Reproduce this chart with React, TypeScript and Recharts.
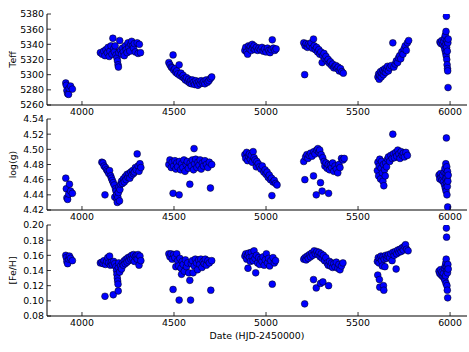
import React from 'react';
import { ScatterChart, Scatter, XAxis, YAxis } from 'recharts';

// observation date (HJD-2450000) vs. stellar parameter, one list per panel
const teffPoints: [number, number][] = [
  [3912, 5289], [3915, 5286], [3918, 5279], [3922, 5275], [3927, 5274], [3930, 5282], [3938, 5285], [3948, 5281],
  [4100, 5329], [4110, 5327], [4118, 5331], [4125, 5325], [4130, 5333], [4138, 5329], [4142, 5336], [4148, 5324],
  [4152, 5331], [4158, 5338], [4163, 5327], [4168, 5348], [4172, 5334], [4176, 5330], [4180, 5338], [4185, 5326],
  [4190, 5322], [4193, 5318], [4196, 5313], [4198, 5310], [4200, 5329], [4205, 5345], [4210, 5332], [4215, 5327],
  [4220, 5335], [4225, 5330], [4230, 5325], [4235, 5338], [4240, 5333], [4245, 5329], [4250, 5342], [4255, 5336],
  [4260, 5331], [4265, 5340], [4270, 5344], [4275, 5338], [4280, 5335], [4285, 5341], [4290, 5330], [4300, 5342],
  [4305, 5328], [4312, 5340], [4318, 5329],
  [4472, 5316], [4478, 5313], [4485, 5310], [4490, 5309], [4495, 5326], [4498, 5306], [4505, 5308], [4510, 5303],
  [4515, 5305], [4520, 5301], [4528, 5313], [4532, 5299], [4538, 5302], [4545, 5297], [4550, 5299], [4556, 5295],
  [4562, 5293], [4568, 5296], [4575, 5291], [4580, 5294], [4585, 5289], [4590, 5292], [4595, 5288], [4600, 5293],
  [4606, 5290], [4612, 5287], [4618, 5292], [4624, 5289], [4630, 5286], [4636, 5291], [4642, 5288], [4648, 5292],
  [4655, 5289], [4662, 5291], [4668, 5288], [4675, 5293], [4682, 5290], [4690, 5292], [4698, 5295], [4705, 5297],
  [4885, 5332], [4890, 5336], [4895, 5330], [4900, 5327], [4905, 5338], [4910, 5334], [4915, 5337], [4920, 5332],
  [4925, 5340], [4930, 5335], [4935, 5338], [4940, 5333], [4948, 5336], [4955, 5332], [4962, 5335], [4970, 5333],
  [4978, 5336], [4985, 5331], [4992, 5334], [5000, 5330], [5008, 5335], [5015, 5332], [5022, 5329], [5028, 5333],
  [5034, 5346], [5040, 5335], [5048, 5332], [5055, 5334],
  [5205, 5342], [5210, 5300], [5212, 5338], [5218, 5341], [5225, 5336], [5230, 5340], [5238, 5338], [5245, 5342],
  [5252, 5335], [5258, 5347], [5262, 5338], [5268, 5333], [5275, 5336], [5280, 5330], [5287, 5333], [5292, 5327],
  [5298, 5330], [5305, 5316], [5308, 5325], [5315, 5328], [5320, 5321], [5326, 5324], [5332, 5318], [5338, 5320],
  [5344, 5315], [5350, 5317], [5356, 5312], [5362, 5314], [5368, 5309], [5374, 5311], [5380, 5312], [5386, 5308],
  [5392, 5310], [5398, 5305], [5405, 5308], [5412, 5304], [5420, 5302],
  [5608, 5297], [5612, 5301], [5615, 5294], [5618, 5299], [5622, 5304], [5626, 5297], [5630, 5302], [5634, 5306],
  [5638, 5300], [5642, 5304], [5646, 5308], [5650, 5303], [5655, 5307], [5660, 5311], [5665, 5305], [5672, 5309],
  [5680, 5312], [5689, 5342], [5695, 5310], [5702, 5314], [5708, 5318], [5715, 5316], [5720, 5322], [5726, 5325],
  [5732, 5321], [5738, 5330], [5744, 5327], [5750, 5334], [5756, 5338], [5762, 5332], [5768, 5342], [5775, 5345],
  [5945, 5343], [5950, 5341], [5955, 5345], [5960, 5340], [5965, 5344], [5968, 5337], [5970, 5348], [5972, 5333],
  [5974, 5352], [5976, 5329], [5977, 5340], [5978, 5357], [5979, 5325], [5980, 5377], [5981, 5336], [5982, 5320],
  [5983, 5345], [5984, 5313], [5985, 5331], [5986, 5308], [5987, 5305], [5988, 5342], [5989, 5283], [5990, 5347],
];

const loggPoints: [number, number][] = [
  [3912, 4.462], [3915, 4.448], [3918, 4.436], [3922, 4.434], [3928, 4.441], [3932, 4.454], [3938, 4.445], [3948, 4.442],
  [4108, 4.483], [4114, 4.482], [4120, 4.478], [4125, 4.440], [4128, 4.476], [4134, 4.473], [4140, 4.471], [4146, 4.468],
  [4150, 4.472], [4156, 4.465], [4160, 4.462], [4165, 4.459], [4170, 4.456], [4175, 4.453], [4178, 4.437], [4182, 4.448],
  [4185, 4.445], [4188, 4.440], [4190, 4.434], [4192, 4.430], [4195, 4.437], [4198, 4.443], [4200, 4.450], [4204, 4.432],
  [4206, 4.447], [4210, 4.454], [4215, 4.458], [4220, 4.455], [4225, 4.461], [4230, 4.457], [4235, 4.464], [4240, 4.460],
  [4245, 4.467], [4250, 4.463], [4255, 4.468], [4260, 4.462], [4265, 4.470], [4270, 4.466], [4275, 4.472], [4280, 4.468],
  [4285, 4.470], [4290, 4.476], [4295, 4.473], [4300, 4.494], [4305, 4.478], [4310, 4.471], [4315, 4.481], [4320, 4.476],
  [4472, 4.480], [4478, 4.486], [4485, 4.476], [4490, 4.483], [4495, 4.442], [4498, 4.478], [4505, 4.485], [4510, 4.474],
  [4515, 4.482], [4520, 4.477], [4528, 4.440], [4530, 4.484], [4536, 4.473], [4542, 4.481], [4548, 4.476], [4554, 4.486],
  [4560, 4.471], [4566, 4.480], [4572, 4.484], [4578, 4.475], [4586, 4.454], [4588, 4.482], [4594, 4.478], [4600, 4.486],
  [4606, 4.473], [4609, 4.501], [4612, 4.481], [4618, 4.487], [4624, 4.476], [4630, 4.483], [4636, 4.479], [4642, 4.486],
  [4648, 4.474], [4654, 4.482], [4660, 4.478], [4668, 4.485], [4676, 4.480], [4684, 4.476], [4692, 4.483], [4698, 4.449],
  [4705, 4.480],
  [4885, 4.493], [4890, 4.488], [4895, 4.496], [4900, 4.485], [4905, 4.491], [4910, 4.494], [4915, 4.487], [4920, 4.492],
  [4925, 4.483], [4930, 4.497], [4935, 4.489], [4940, 4.486], [4947, 4.477], [4950, 4.484], [4958, 4.481], [4965, 4.477],
  [4972, 4.474], [4980, 4.478], [4988, 4.470], [4995, 4.473], [5000, 4.467], [5006, 4.470], [5012, 4.463], [5018, 4.466],
  [5024, 4.460], [5030, 4.462], [5032, 4.439], [5038, 4.457], [5045, 4.459], [5052, 4.455], [5060, 4.453],
  [5205, 4.484], [5211, 4.460], [5215, 4.490], [5222, 4.493], [5228, 4.488], [5235, 4.492], [5242, 4.495], [5250, 4.491],
  [5258, 4.465], [5260, 4.497], [5266, 4.494], [5273, 4.440], [5275, 4.499], [5282, 4.501], [5288, 4.496], [5292, 4.499],
  [5296, 4.456], [5300, 4.493], [5305, 4.445], [5308, 4.489], [5315, 4.484], [5320, 4.478], [5326, 4.482], [5332, 4.475],
  [5338, 4.480], [5340, 4.442], [5345, 4.473], [5350, 4.479], [5356, 4.476], [5362, 4.482], [5368, 4.471], [5375, 4.478],
  [5382, 4.474], [5390, 4.469], [5396, 4.480], [5402, 4.476], [5410, 4.488], [5418, 4.486], [5425, 4.488],
  [5605, 4.472], [5608, 4.483], [5612, 4.465], [5615, 4.478], [5618, 4.487], [5622, 4.461], [5625, 4.475], [5628, 4.484],
  [5632, 4.469], [5635, 4.458], [5638, 4.480], [5640, 4.452], [5644, 4.473], [5648, 4.465], [5650, 4.482], [5655, 4.477],
  [5660, 4.487], [5665, 4.490], [5672, 4.484], [5678, 4.492], [5685, 4.488], [5689, 4.520], [5692, 4.494], [5698, 4.489],
  [5705, 4.496], [5710, 4.491], [5716, 4.499], [5722, 4.494], [5728, 4.488], [5734, 4.497], [5740, 4.492], [5746, 4.495],
  [5752, 4.490], [5760, 4.496], [5768, 4.492],
  [5940, 4.466], [5944, 4.461], [5948, 4.468], [5952, 4.463], [5956, 4.459], [5960, 4.466], [5964, 4.457], [5968, 4.470],
  [5970, 4.453], [5972, 4.475], [5974, 4.449], [5976, 4.462], [5977, 4.481], [5978, 4.445], [5979, 4.468], [5980, 4.515],
  [5981, 4.456], [5982, 4.477], [5983, 4.440], [5984, 4.463], [5985, 4.451], [5986, 4.471], [5987, 4.424], [5988, 4.458],
  [5990, 4.466],
];

const fehPoints: [number, number][] = [
  [3912, 0.160], [3915, 0.157], [3918, 0.152], [3922, 0.149], [3928, 0.155], [3932, 0.159], [3938, 0.156], [3948, 0.153],
  [4100, 0.150], [4108, 0.151], [4115, 0.149], [4120, 0.153], [4125, 0.106], [4128, 0.148], [4134, 0.152], [4140, 0.157],
  [4145, 0.150], [4150, 0.159], [4155, 0.147], [4160, 0.151], [4165, 0.148], [4170, 0.108], [4172, 0.152], [4178, 0.149],
  [4184, 0.145], [4188, 0.140], [4190, 0.135], [4192, 0.130], [4194, 0.126], [4196, 0.122], [4197, 0.113], [4198, 0.144],
  [4200, 0.150], [4205, 0.138], [4210, 0.146], [4215, 0.142], [4220, 0.150], [4225, 0.147], [4230, 0.153], [4235, 0.149],
  [4240, 0.155], [4245, 0.151], [4250, 0.157], [4255, 0.153], [4260, 0.158], [4265, 0.155], [4270, 0.160], [4275, 0.156],
  [4280, 0.161], [4285, 0.152], [4290, 0.158], [4295, 0.160], [4300, 0.155], [4305, 0.161], [4310, 0.147], [4315, 0.159],
  [4320, 0.153],
  [4472, 0.162], [4478, 0.158], [4484, 0.162], [4490, 0.155], [4495, 0.115], [4498, 0.161], [4504, 0.157], [4510, 0.145],
  [4515, 0.162], [4520, 0.153], [4525, 0.146], [4528, 0.101], [4532, 0.156], [4538, 0.143], [4541, 0.135], [4545, 0.152],
  [4550, 0.148], [4556, 0.139], [4562, 0.154], [4568, 0.145], [4574, 0.150], [4580, 0.137], [4586, 0.127], [4590, 0.101],
  [4594, 0.149], [4600, 0.153], [4604, 0.137], [4610, 0.146], [4616, 0.155], [4622, 0.150], [4628, 0.141], [4634, 0.154],
  [4640, 0.148], [4646, 0.155], [4652, 0.144], [4658, 0.152], [4664, 0.149], [4670, 0.155], [4676, 0.147], [4684, 0.153],
  [4692, 0.150], [4700, 0.114], [4705, 0.153],
  [4885, 0.159], [4890, 0.162], [4895, 0.155], [4900, 0.160], [4902, 0.143], [4906, 0.163], [4910, 0.157], [4915, 0.152],
  [4920, 0.164], [4925, 0.158], [4930, 0.153], [4935, 0.166], [4940, 0.156], [4944, 0.137], [4948, 0.160], [4954, 0.150],
  [4960, 0.157], [4966, 0.148], [4972, 0.155], [4978, 0.152], [4984, 0.158], [4990, 0.147], [4996, 0.154], [5002, 0.162],
  [5008, 0.150], [5014, 0.156], [5020, 0.146], [5026, 0.153], [5034, 0.122], [5038, 0.157], [5045, 0.150], [5052, 0.153],
  [5205, 0.155], [5210, 0.096], [5212, 0.157], [5218, 0.154], [5224, 0.159], [5230, 0.156], [5236, 0.161], [5242, 0.158],
  [5248, 0.163], [5254, 0.160], [5258, 0.128], [5262, 0.166], [5268, 0.162], [5273, 0.117], [5276, 0.165], [5282, 0.161],
  [5288, 0.164], [5294, 0.158], [5296, 0.123], [5300, 0.162], [5305, 0.156], [5309, 0.125], [5312, 0.160], [5318, 0.153],
  [5325, 0.157], [5332, 0.150], [5338, 0.147], [5340, 0.120], [5345, 0.152], [5350, 0.146], [5356, 0.150], [5362, 0.144],
  [5368, 0.149], [5375, 0.145], [5382, 0.151], [5390, 0.143], [5396, 0.148], [5402, 0.141], [5410, 0.146], [5418, 0.150],
  [5605, 0.152], [5607, 0.134], [5610, 0.157], [5614, 0.150], [5616, 0.128], [5618, 0.118], [5620, 0.156], [5625, 0.159],
  [5628, 0.153], [5632, 0.146], [5636, 0.158], [5638, 0.120], [5640, 0.114], [5642, 0.155], [5646, 0.145], [5650, 0.160],
  [5655, 0.156], [5660, 0.159], [5666, 0.161], [5672, 0.157], [5678, 0.162], [5685, 0.153], [5690, 0.164], [5696, 0.160],
  [5702, 0.165], [5707, 0.142], [5710, 0.162], [5716, 0.167], [5722, 0.164], [5728, 0.168], [5734, 0.165], [5740, 0.170],
  [5746, 0.167], [5752, 0.172], [5758, 0.174], [5764, 0.168], [5772, 0.166],
  [5940, 0.139], [5944, 0.136], [5948, 0.141], [5952, 0.134], [5956, 0.138], [5960, 0.132], [5964, 0.136], [5968, 0.130],
  [5970, 0.143], [5972, 0.127], [5974, 0.146], [5976, 0.133], [5977, 0.150], [5978, 0.123], [5979, 0.155], [5980, 0.196],
  [5981, 0.184], [5982, 0.140], [5983, 0.120], [5984, 0.145], [5985, 0.114], [5986, 0.137], [5987, 0.104], [5988, 0.148],
  [5990, 0.142],
];

const dateTicks = [4000, 4500, 5000, 5500, 6000];
const teffTicks = [5260, 5280, 5300, 5320, 5340, 5360, 5380];
const loggTicks = [4.42, 4.44, 4.46, 4.48, 4.5, 4.52, 4.54];
const fehTicks = [0.08, 0.1, 0.12, 0.14, 0.16, 0.18, 0.2];

const FONT = 'DejaVu Sans, sans-serif';
const FS = 9.4;

const Dot = (p: any) => (
  <circle cx={p.cx} cy={p.cy} r={3.4} fill="#0000ff" stroke="#000" strokeWidth={0.5} />
);

const BottomTick = ({ x, y, payload }: any) => (
  <g>
    <line x1={x} y1={y} x2={x} y2={y - 4} stroke="#000" strokeWidth={0.8} />
    <text x={x} y={y + 10} textAnchor="middle" fontSize={FS} fontFamily={FONT} fill="#000">
      {payload.value}
    </text>
  </g>
);

const TopTick = ({ x, y }: any) => (
  <line x1={x} y1={y} x2={x} y2={y + 4} stroke="#000" strokeWidth={0.8} />
);

const makeLeftTick = (digits: number) => ({ x, y, payload }: any) => (
  <g>
    <line x1={x} y1={y} x2={x + 4} y2={y} stroke="#000" strokeWidth={0.8} />
    <text x={x - 3} y={y + 3.4} textAnchor="end" fontSize={FS} fontFamily={FONT} fill="#000">
      {payload.value.toFixed(digits)}
    </text>
  </g>
);

const RightTick = ({ x, y }: any) => (
  <line x1={x} y1={y} x2={x - 4} y2={y} stroke="#000" strokeWidth={0.8} />
);

function Panel({ top, points, domain, ticks, digits, label, xLabel }: any) {
  const data = points.map(([x, y]: [number, number]) => ({ x, y }));
  const bottomH = xLabel ? 36 : 20;
  const plotH = 91;
  const margin = { top: 14, right: 2, bottom: 0, left: 0 };
  return (
    <div style={{ position: 'absolute', left: 0, top }}>
      <ScatterChart width={469} height={14 + plotH + bottomH} margin={margin}>
        <XAxis
          xAxisId={0}
          type="number"
          dataKey="x"
          domain={[3810, 6092]}
          ticks={dateTicks}
          interval={0}
          allowDataOverflow
          height={bottomH}
          tickSize={0}
          tickMargin={0}
          tickLine={false}
          axisLine={{ stroke: '#000' }}
          tick={<BottomTick />}
          label={
            xLabel
              ? ({ viewBox }: any) => (
                  <text
                    x={viewBox.x + viewBox.width / 2}
                    y={viewBox.y + 23}
                    textAnchor="middle"
                    fontSize={FS}
                    fontFamily={FONT}
                    fill="#000"
                  >
                    {xLabel}
                  </text>
                )
              : undefined
          }
        />
        <XAxis
          xAxisId="top"
          orientation="top"
          type="number"
          dataKey="x"
          domain={[3810, 6092]}
          ticks={dateTicks}
          interval={0}
          allowDataOverflow
          height={0}
          tickSize={0}
          tickMargin={0}
          tickLine={false}
          axisLine={{ stroke: '#000' }}
          tick={<TopTick />}
        />
        <YAxis
          yAxisId={0}
          type="number"
          dataKey="y"
          domain={domain}
          ticks={ticks}
          interval={0}
          allowDataOverflow
          width={47}
          tickSize={0}
          tickMargin={0}
          tickLine={false}
          axisLine={{ stroke: '#000' }}
          tick={makeLeftTick(digits)}
          label={({ viewBox }: any) => {
            const cy = viewBox.y + viewBox.height / 2;
            return (
              <text
                x={16}
                y={cy}
                transform={`rotate(-90 16 ${cy})`}
                textAnchor="middle"
                fontSize={FS}
                fontFamily={FONT}
                fill="#000"
              >
                {label}
              </text>
            );
          }}
        />
        <YAxis
          yAxisId="right"
          orientation="right"
          type="number"
          dataKey="y"
          domain={domain}
          ticks={ticks}
          interval={0}
          allowDataOverflow
          width={0}
          tickSize={0}
          tickMargin={0}
          tickLine={false}
          axisLine={{ stroke: '#000' }}
          tick={<RightTick />}
        />
        <Scatter
          data={data}
          xAxisId={0}
          yAxisId={0}
          shape={Dot}
          isAnimationActive={false}
        />
      </ScatterChart>
    </div>
  );
}

export default function App() {
  return (
    <div
      style={{
        position: 'absolute',
        left: 0,
        top: 0,
        width: 469,
        height: 352,
        background: '#fff',
        overflow: 'hidden',
      }}
    >
      <Panel top={211} points={fehPoints} domain={[0.08, 0.2]} ticks={fehTicks} digits={2} label="[Fe/H]" xLabel="Date (HJD-2450000)" />
      <Panel top={105} points={loggPoints} domain={[4.42, 4.54]} ticks={loggTicks} digits={2} label="log(g)" />
      <Panel top={0} points={teffPoints} domain={[5260, 5380]} ticks={teffTicks} digits={0} label="Teff" />
    </div>
  );
}
